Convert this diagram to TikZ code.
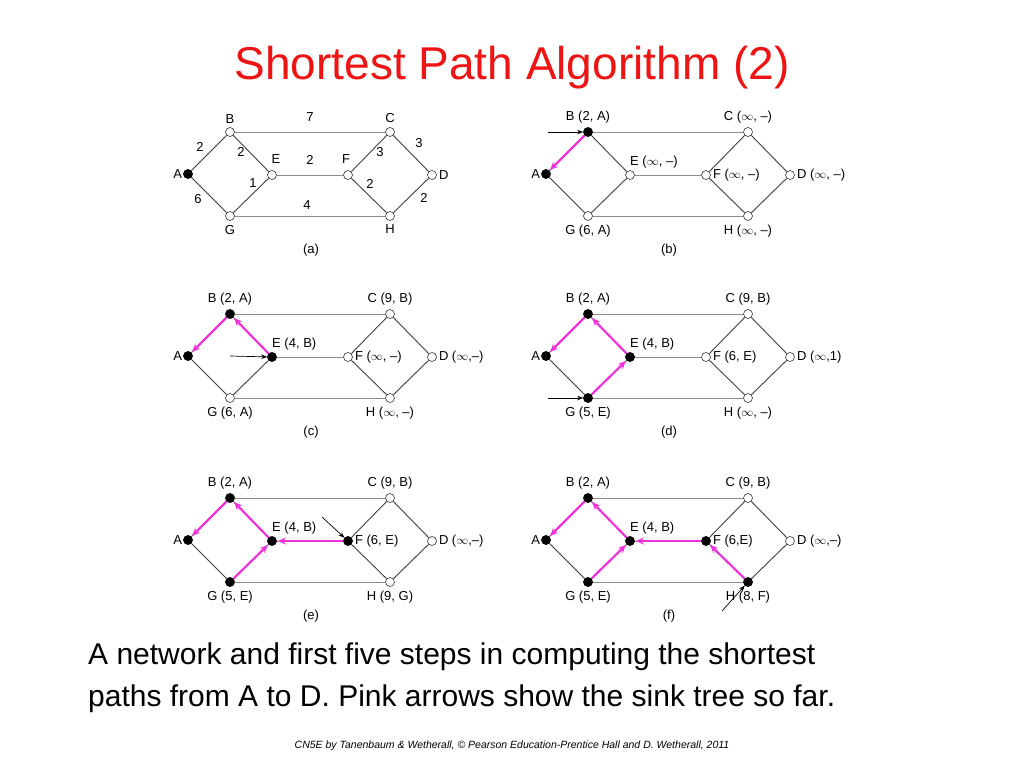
\documentclass[tikz,border=0pt]{standalone}
\usepackage{fontspec}
\setmainfont{Liberation Sans}
\usetikzlibrary{arrows.meta}
\definecolor{titlered}{RGB}{238,20,20}
\definecolor{pinkarr}{RGB}{240,50,220}
\tikzset{
  pt/.style={circle, draw=black!80, fill=white, inner sep=0pt, minimum size=9pt, line width=0.6pt},
  lab/.style={font=\fontsize{13}{15}\selectfont, inner sep=1pt},
  ln/.style={draw=black!45, line width=1pt},
  dk/.style={draw=black!75, line width=0.9pt},
  sink/.style={draw=pinkarr, line width=2.2pt, -{Stealth[length=8pt,width=7pt]}, shorten >=1pt},
  nxt/.style={-{Stealth[length=6pt]}, line width=0.7pt}
}
% one network, node names prefixed by #1
\newcommand{\net}[1]{%
  \node[pt] (#1A) at (0,0) {};
  \node[pt] (#1B) at (42,-42) {};
  \node[pt] (#1E) at (84,1) {};
  \node[pt] (#1F) at (160,1) {};
  \node[pt] (#1C) at (202,-42) {};
  \node[pt] (#1D) at (244,1) {};
  \node[pt] (#1G) at (42,42) {};
  \node[pt] (#1H) at (202,42) {};
  \draw[ln] (#1B) -- (#1C);
  \draw[ln] (#1G) -- (#1H);
  \draw[ln] (#1E) -- (#1F);
  \draw[dk] (#1A) -- (#1B);
  \draw[dk] (#1A) -- (#1G);
  \draw[dk] (#1B) -- (#1E);
  \draw[dk] (#1G) -- (#1E);
  \draw[dk] (#1F) -- (#1C);
  \draw[dk] (#1F) -- (#1H);
  \draw[dk] (#1C) -- (#1D);
  \draw[dk] (#1H) -- (#1D);
}
% labels B C E F D G H, caption
\newcommand{\labs}[9]{%
  \node[lab, anchor=east] at (#1A.west) {A};
  \node[lab, anchor=south] at ([yshift=3pt]#1B.north) {#2};
  \node[lab, anchor=south] at ([yshift=3pt]#1C.north) {#3};
  \node[lab, anchor=south west] at ([xshift=-1pt,yshift=1pt]#1E.north) {#4};
  \node[lab, anchor=west] at ([xshift=1pt]#1F.east) {#5};
  \node[lab, anchor=west] at ([xshift=1pt]#1D.east) {#6};
  \node[lab, anchor=north] at ([yshift=-3pt]#1G.south) {#7};
  \node[lab, anchor=north] at ([yshift=-3pt]#1H.south) {#8};
  \node[lab] at (123,76) {#9};
}
\newcommand{\seen}[2]{\foreach \v in {#2} {\fill[black] (#1\v) circle (4.8pt);}}

\begin{document}
\begin{tikzpicture}[x=1pt, y=-1pt]
  \useasboundingbox (0,0) rectangle (1024,768);

  \node[text=titlered, font=\fontsize{46}{50}\selectfont] (title) at (512,68) {Shortest Path Algorithm (2)};

  % (a)
  \begin{scope}[shift={(188,174)}]
    \net{a}
    \seen{a}{A}
    \node[lab, anchor=east] at (aA.west) {A};
    \node[lab, anchor=south] at ([yshift=3pt]aB.north) {B};
    \node[lab, anchor=south] at ([yshift=3pt]aC.north) {C};
    \node[lab] at (88,-15) {E};
    \node[lab] at (158,-15) {F};
    \node[lab, anchor=west] at ([xshift=1pt]aD.east) {D};
    \node[lab, anchor=north] at ([yshift=-3pt]aG.south) {G};
    \node[lab, anchor=north] at ([yshift=-3pt]aH.south) {H};
    \node[lab] at (12,-27) {2};
    \node[lab] at (53,-22) {2};
    \node[lab] at (122,-57) {7};
    \node[lab] at (231,-31) {3};
    \node[lab] at (192,-22) {3};
    \node[lab] at (122,-14) {2};
    \node[lab] at (65,9) {1};
    \node[lab] at (182,10) {2};
    \node[lab] at (10,25) {6};
    \node[lab] at (119,31) {4};
    \node[lab] at (236,24) {2};
    \node[lab] at (123,76) {(a)};
  \end{scope}

  % (b)
  \begin{scope}[shift={(546,174)}]
    \net{b}
    \seen{b}{A,B}
    \labs{b}{B (2, A)}{C ($\infty$, --)}{E ($\infty$, --)}{F ($\infty$, --)}{D ($\infty$, --)}{G (6, A)}{H ($\infty$, --)}{(b)}
    \draw[sink] (bB) -- (bA);
    \coordinate (bs) at (2,-42);
    \draw[nxt] (bs) -- (bB);
  \end{scope}

  % (c)
  \begin{scope}[shift={(188,356)}]
    \net{c}
    \seen{c}{A,B,E}
    \labs{c}{B (2, A)}{C (9, B)}{E (4, B)}{F ($\infty$, --)}{D ($\infty$,--)}{G (6, A)}{H ($\infty$, --)}{(c)}
    \draw[sink] (cB) -- (cA);
    \draw[sink] (cE) -- (cB);
    \coordinate (cs) at (42,0);
    \draw[nxt] (cs) -- (cE);
  \end{scope}

  % (d)
  \begin{scope}[shift={(546,356)}]
    \net{d}
    \seen{d}{A,B,E,G}
    \labs{d}{B (2, A)}{C (9, B)}{E (4, B)}{F (6, E)}{D ($\infty$,1)}{G (5, E)}{H ($\infty$, --)}{(d)}
    \draw[sink] (dB) -- (dA);
    \draw[sink] (dE) -- (dB);
    \draw[sink] (dG) -- (dE);
    \coordinate (ds) at (2,42);
    \draw[nxt] (ds) -- (dG);
  \end{scope}

  % (e)
  \begin{scope}[shift={(188,540)}]
    \net{e}
    \seen{e}{A,B,E,G,F}
    \labs{e}{B (2, A)}{C (9, B)}{E (4, B)}{F (6, E)}{D ($\infty$,--)}{G (5, E)}{H (9, G)}{(e)}
    \draw[sink] (eB) -- (eA);
    \draw[sink] (eE) -- (eB);
    \draw[sink] (eG) -- (eE);
    \draw[sink] (eF) -- (eE);
    \coordinate (es) at (134,-23);
    \draw[nxt] (es) -- (eF);
  \end{scope}

  % (f)
  \begin{scope}[shift={(546,540)}]
    \net{f}
    \seen{f}{A,B,E,G,F,H}
    \labs{f}{B (2, A)}{C (9, B)}{E (4, B)}{F (6,E)}{D ($\infty$,--)}{G (5, E)}{H (8, F)}{(f)}
    \draw[sink] (fB) -- (fA);
    \draw[sink] (fE) -- (fB);
    \draw[sink] (fG) -- (fE);
    \draw[sink] (fF) -- (fE);
    \draw[sink] (fH) -- (fF);
    \coordinate (fs) at (176,71);
    \draw[nxt] (fs) -- (fH);
  \end{scope}

  \node[anchor=north west, align=left, font=\fontsize{30}{42}\selectfont, inner sep=0pt] (cap) at (88,643)
    {A network and first five steps in computing the shortest\\paths from A to D. Pink arrows show the sink tree so far.};
  \node[font=\itshape\fontsize{10.5}{12}\selectfont] (foot) at (512,746)
    {CN5E by Tanenbaum \& Wetherall, \textcopyright{} Pearson Education-Prentice Hall and D. Wetherall, 2011};
\end{tikzpicture}
\end{document}
